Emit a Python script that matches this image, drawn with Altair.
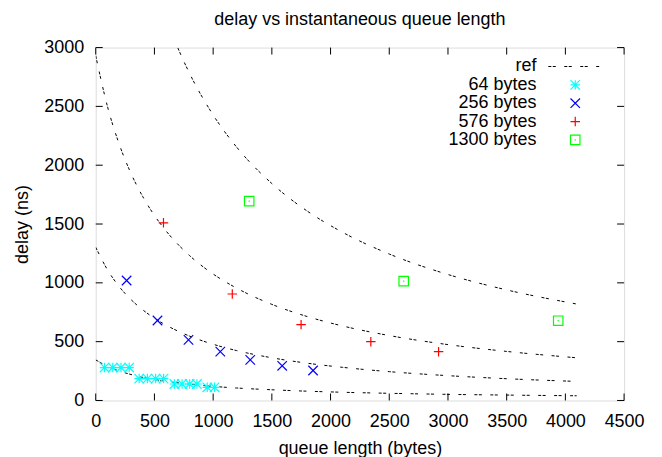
import altair as alt
import pandas as pd

# ---- data ----
series_names = ["64 bytes", "256 bytes", "576 bytes", "1300 bytes"]
series_colors = ["#00ffff", "#0000ff", "#ff0000", "#00ff00"]

x64 = [75, 145, 215, 285, 370, 440, 510, 578, 670, 735, 800, 862, 950, 1012]
y64 = [280, 280, 280, 280, 186, 186, 186, 186, 140, 140, 140, 140, 112, 112]

x256 = [263, 526, 790, 1061, 1316, 1588, 1851]
y256 = [1020, 680, 515, 415, 345, 295, 255]

x576 = [577, 1163, 1749, 2343, 2920]
y576 = [1510, 905, 645, 500, 415]

x1300 = [1307, 2623, 3939]
y1300 = [1695, 1015, 678]

ref_x = [0, 100, 200, 300, 400, 500, 600, 800, 1000, 1200, 1500, 1800, 2100, 2500, 3000, 3500, 4096]
ref64 = [345, 290, 251, 221, 197, 178, 163, 138, 120, 106, 91, 79, 70, 61, 52, 46, 40]
ref256 = [1302, 1111, 968, 858, 771, 699, 640, 547, 478, 424, 363, 317, 282, 245, 211, 185, 162]
ref576 = [2930, 2499, 2179, 1931, 1734, 1573, 1440, 1231, 1075, 955, 817, 714, 634, 552, 475, 417, 363]
ref1300_x = [600, 700, 800, 1000, 1200, 1500, 1800, 2100, 2500, 3000, 3500, 4096]
ref1300 = [3250, 2996, 2779, 2427, 2154, 1844, 1611, 1431, 1245, 1071, 940, 820]

x_ticks = [0, 500, 1000, 1500, 2000, 2500, 3000, 3500, 4000, 4500]
y_ticks = [0, 500, 1000, 1500, 2000, 2500, 3000]

# ---- layout / style ----
W, H = 530, 354
FONT = "Liberation Sans"
FS = 18
TL = 7  # inward tick length

shapes = [
    "M-1,0L1,0M0,-1L0,1M-1,-1L1,1M-1,1L1,-1",  # asterisk
    "M-1,-1L1,1M-1,1L1,-1",                    # x
    "M-1,0L1,0M0,-1L0,1",                      # plus
    "M-1,-1L1,-1L1,1L-1,1ZM-0.12,0L0.12,0",    # box with dot
]

pts = pd.concat([
    pd.DataFrame({"q": xv, "d": yv, "s": name})
    for xv, yv, name in [(x64, y64, series_names[0]), (x256, y256, series_names[1]),
                         (x576, y576, series_names[2]), (x1300, y1300, series_names[3])]
])
refs = pd.concat([
    pd.DataFrame({"q": ref_x, "d": ref64, "c": "r64"}),
    pd.DataFrame({"q": ref_x, "d": ref256, "c": "r256"}),
    pd.DataFrame({"q": ref_x, "d": ref576, "c": "r576"}),
    pd.DataFrame({"q": ref1300_x, "d": ref1300, "c": "r1300"}),
])

xscale = alt.Scale(domain=[0, 4500], nice=False, zero=False)
yscale = alt.Scale(domain=[0, 3000], nice=False, zero=False)
xaxis = alt.Axis(values=x_ticks, format="d", ticks=False, domain=False, grid=False, labelPadding=12,
                 labelFontSize=FS, labelFont=FONT, labelColor="black", titleFontSize=FS,
                 titleFont=FONT, titleFontWeight="normal", titleColor="black", titlePadding=9,
                 labelFlush=False)
yaxis = alt.Axis(values=y_ticks, format="d", ticks=False, domain=False, grid=False, labelPadding=12,
                 labelFontSize=FS, labelFont=FONT, labelColor="black", titleFontSize=FS,
                 titleFont=FONT, titleFontWeight="normal", titleColor="black", titlePadding=12,
                 labelFlush=False)
XT = "queue length (bytes)"
YT = "delay (ns)"


def X(f):
    return alt.X(f, type="quantitative", scale=xscale, axis=xaxis, title=XT)


def Y(f):
    return alt.Y(f, type="quantitative", scale=yscale, axis=yaxis, title=YT)


DASH = [3, 1.5, 3, 8.5]

ref_layer = alt.Chart(refs).mark_line(
    color="black", strokeWidth=1, strokeDash=DASH, clip=True, interpolate="monotone"
).encode(x=X("q"), y=Y("d"), detail="c:N")

pt_layer = alt.Chart(pts).mark_point(filled=False, size=90, strokeWidth=1.2, opacity=1).encode(
    x=X("q"), y=Y("d"),
    color=alt.Color("s:N", scale=alt.Scale(domain=series_names, range=series_colors), legend=None),
    shape=alt.Shape("s:N", scale=alt.Scale(domain=series_names, range=shapes), legend=None),
)

xt = pd.DataFrame({"t": x_ticks})
yt = pd.DataFrame({"t": y_ticks})
tick_layers = [
    alt.Chart(xt).mark_rule(color="black", strokeWidth=1).encode(x=X("t"), y=alt.value(H), y2=alt.value(H - TL)),
    alt.Chart(xt).mark_rule(color="black", strokeWidth=1).encode(x=X("t"), y=alt.value(0), y2=alt.value(TL)),
    alt.Chart(yt).mark_rule(color="black", strokeWidth=1).encode(y=Y("t"), x=alt.value(0), x2=alt.value(TL)),
    alt.Chart(yt).mark_rule(color="black", strokeWidth=1).encode(y=Y("t"), x=alt.value(W), x2=alt.value(W - TL)),
]

# ---- legend (gnuplot style: label right-aligned, sample to the right) ----
leg_label_x = 442
leg_sym_x = 481
leg_y0 = 19
leg_dy = 18.4
leg_labels = ["ref"] + series_names
legend_layers = []
one = pd.DataFrame({"k": [0]})
for i, lab in enumerate(leg_labels):
    yy = leg_y0 + i * leg_dy
    legend_layers.append(
        alt.Chart(one).mark_text(align="right", baseline="middle", font=FONT, fontSize=FS, color="black").encode(
            x=alt.value(leg_label_x), y=alt.value(yy), text=alt.value(lab))
    )
    if i == 0:
        legend_layers.append(
            alt.Chart(one).mark_rule(color="black", strokeWidth=1, strokeDash=DASH).encode(
                x=alt.value(454), x2=alt.value(506), y=alt.value(yy))
        )
    else:
        legend_layers.append(
            alt.Chart(one).mark_point(filled=False, size=90, strokeWidth=1.2, opacity=1,
                                      shape=shapes[i - 1], color=series_colors[i - 1]).encode(
                x=alt.value(leg_sym_x), y=alt.value(yy))
        )

chart = alt.layer(ref_layer, pt_layer, *tick_layers, *legend_layers).properties(
    width=W, height=H,
    title=alt.Title("delay vs instantaneous queue length", font=FONT, fontSize=FS,
                    fontWeight="normal", color="black", anchor="middle", frame="group", offset=10),
    autosize=alt.AutoSizeParams(type="none"),
    padding={"left": 88, "top": 39, "right": 30, "bottom": 56},
).configure_view(stroke="black", strokeWidth=1).configure(background="white")

chart.save("out.html", embed_options={"renderer": "svg", "actions": False})
